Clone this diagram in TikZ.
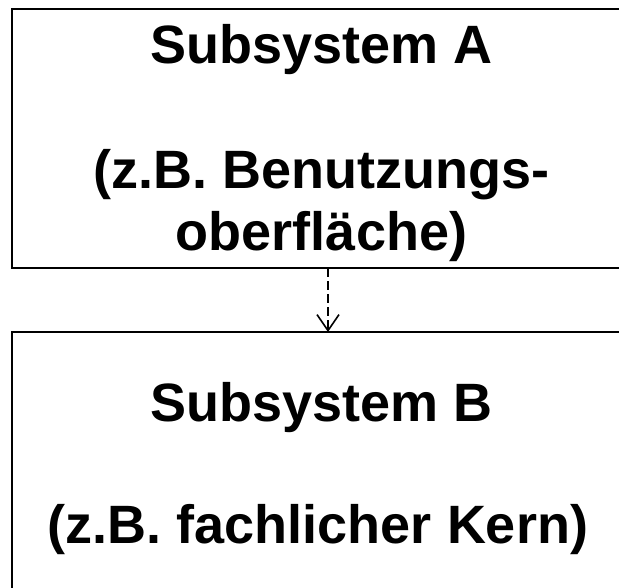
\documentclass[tikz,border=0pt]{standalone}
\usepackage{fontspec}
\setmainfont{Liberation Sans}
\usetikzlibrary{arrows.meta}
\begin{document}
\begin{tikzpicture}[x=1pt,y=-1pt,
  subsys/.style={draw=black, line width=2.5pt, rectangle, inner sep=0pt, outer sep=0pt},
  boxtext/.style={font=\fontsize{54}{62}\selectfont\bfseries, anchor=base, inner sep=0pt},
  dep/.style={line width=1.8pt, dash pattern=on 9pt off 4pt,
    -{Straight Barb[length=16pt,width=22pt,line width=1.6pt]}}]
\useasboundingbox (0,0) rectangle (619,587);
\begin{scope}
  \clip (0,0) rectangle (619,587);
  % the two subsystems (their right and lower sides run off the page)
  \node[subsys, minimum width=619pt, minimum height=259pt, anchor=north west] (boxA) at (12,9) {};
  \node[subsys, minimum width=619pt, minimum height=280pt, anchor=north west] (boxB) at (12,332) {};
\end{scope}
% texts of subsystem A
\node[boxtext] (tA1) at (321.5,63) {Subsystem A};
\node[boxtext] (tA2) at (321.5,188) {(z.B. Benutzungs-};
\node[boxtext] (tA3) at (321.5,250) {oberfläche)};
% texts of subsystem B
\node[boxtext] (tB1) at (321.5,421) {Subsystem B};
\node[boxtext] (tB2) at (318,543) {(z.B. fachlicher Kern)};
% dependency A -> B
\coordinate (depx) at (328,300);
\draw[dep] (boxA.south -| depx) -- (boxB.north -| depx);
\end{tikzpicture}
\end{document}
